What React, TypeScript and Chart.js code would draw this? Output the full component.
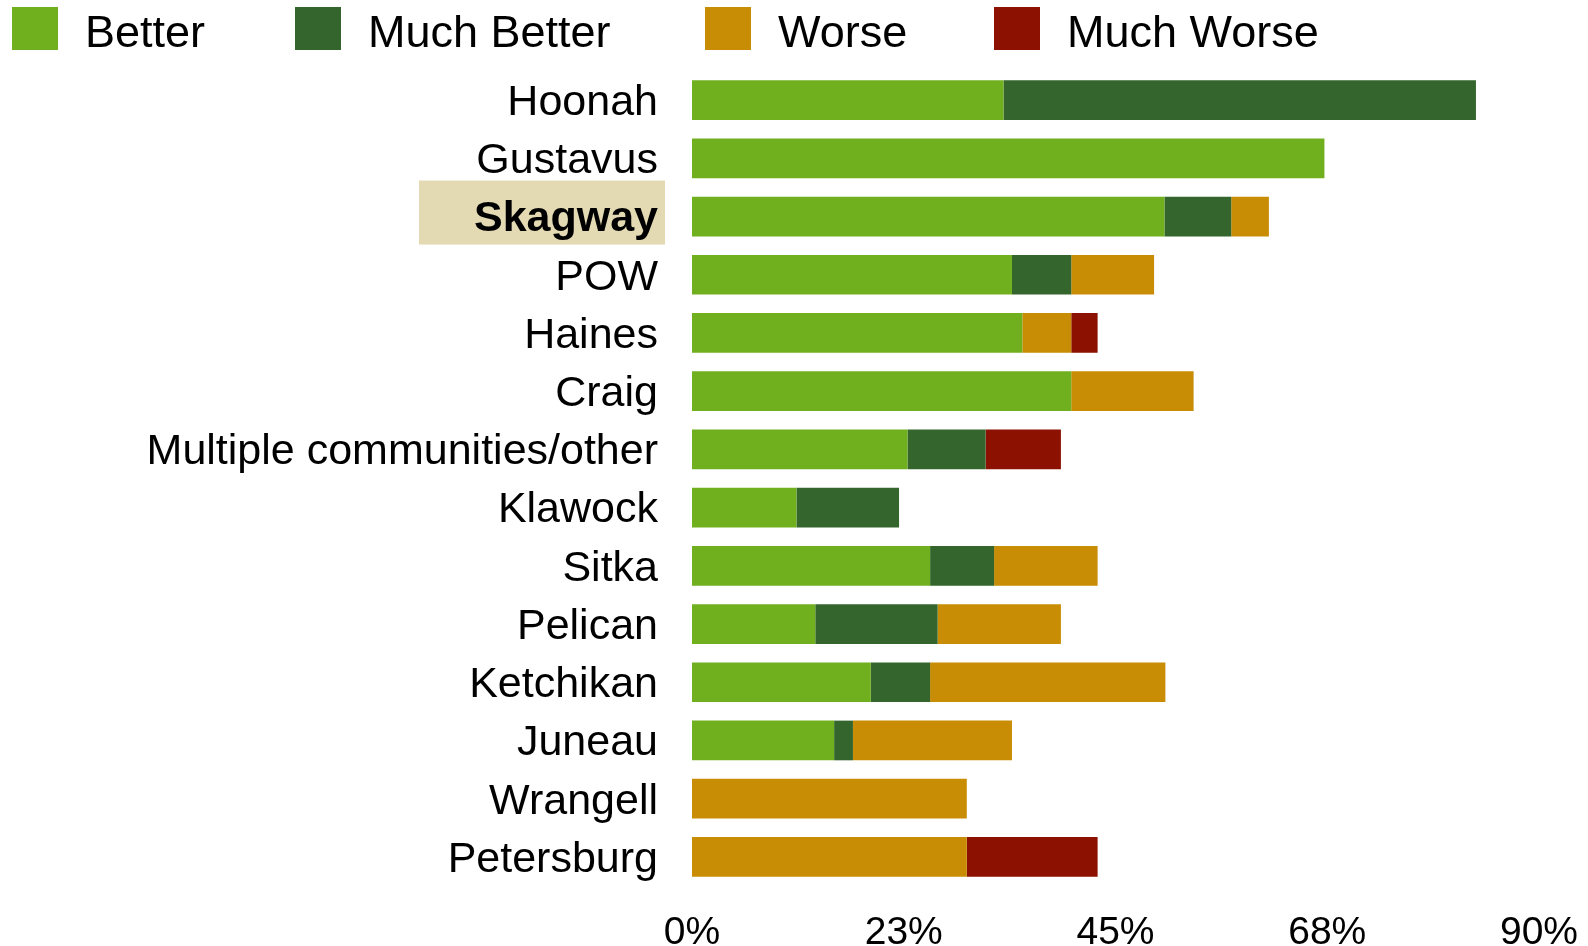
import React, { useEffect, useRef } from "react";
import { Chart, registerables } from "chart.js";

Chart.register(...registerables);

const categories = [
  "Hoonah",
  "Gustavus",
  "Skagway",
  "POW",
  "Haines",
  "Craig",
  "Multiple communities/other",
  "Klawock",
  "Sitka",
  "Pelican",
  "Ketchikan",
  "Juneau",
  "Wrangell",
  "Petersburg",
];

const better = [33.1, 67.2, 50.2, 34.0, 35.1, 40.3, 22.9, 11.1, 25.3, 13.1, 19.0, 15.1, 0, 0];
const muchBetter = [50.2, 0, 7.1, 6.3, 0, 0, 8.3, 10.9, 6.8, 13.0, 6.3, 2.0, 0, 0];
const worse = [0, 0, 4.0, 8.8, 5.2, 13.0, 0, 0, 11.0, 13.1, 25.0, 16.9, 29.2, 29.2];
const muchWorse = [0, 0, 0, 0, 2.8, 0, 8.0, 0, 0, 0, 0, 0, 0, 13.9];

const seriesNames = ["Better", "Much Better", "Worse", "Much Worse"];
const seriesColors = ["#70b01f", "#34652d", "#c98c05", "#8c1100"];

const xTickValues = [0, 22.5, 45, 67.5, 90];
const highlighted = "Skagway";

const FONT = '"Liberation Sans", Arial, Helvetica, sans-serif';

const highlightPlugin = {
  id: "highlightLabel",
  beforeDraw(chart: any) {
    const ctx = chart.ctx;
    const yScale = chart.scales.y;
    const idx = categories.indexOf(highlighted);
    if (idx < 0) return;
    const yc = yScale.getPixelForValue(idx);
    ctx.save();
    ctx.fillStyle = "#e3dab3";
    ctx.fillRect(419, yc - 36, 246, 64);
    ctx.restore();
  },
};

const legendPlugin = {
  id: "customLegend",
  afterDraw(chart: any) {
    const ctx = chart.ctx;
    const boxX = [12, 295, 705, 994];
    ctx.save();
    ctx.font = `45px ${FONT}`;
    ctx.textBaseline = "alphabetic";
    ctx.textAlign = "left";
    chart.data.datasets.forEach((ds: any, i: number) => {
      const x = boxX[i];
      ctx.fillStyle = ds.backgroundColor;
      ctx.fillRect(x, 7, 46, 43);
      ctx.fillStyle = "#000";
      ctx.fillText(ds.label, x + 73, 46.5);
    });
    ctx.restore();
  },
};

export default function App() {
  const canvasRef = useRef<HTMLCanvasElement | null>(null);

  useEffect(() => {
    const canvas = canvasRef.current;
    if (!canvas) return;
    const data = [better, muchBetter, worse, muchWorse];
    const chart = new Chart(canvas, {
      type: "bar",
      data: {
        labels: categories,
        datasets: seriesNames.map((name, i) => ({
          label: name,
          data: data[i],
          backgroundColor: seriesColors[i],
          borderWidth: 0,
          barPercentage: 0.682,
          categoryPercentage: 1,
        })),
      },
      options: {
        indexAxis: "y",
        responsive: false,
        animation: false,
        devicePixelRatio: 1,
        layout: { padding: { top: 71, right: 0, bottom: 0, left: 0 } },
        plugins: {
          legend: { display: false },
          tooltip: { enabled: false },
        },
        scales: {
          x: {
            stacked: true,
            min: 0,
            max: 90,
            grid: { display: false, drawTicks: false },
            border: { display: false },
            afterBuildTicks: (scale: any) => {
              scale.ticks = xTickValues.map((v) => ({ value: v }));
            },
            afterFit: (scale: any) => {
              scale.height = 60;
              scale.paddingRight = 49;
              scale.paddingLeft = 0;
            },
            ticks: {
              autoSkip: false,
              maxRotation: 0,
              color: "#000",
              padding: 24,
              font: { size: 39, family: FONT },
              callback: (v: any) => `${Math.round(Number(v))}%`,
            },
          },
          y: {
            stacked: true,
            grid: { display: false, drawTicks: false },
            border: { display: false },
            afterFit: (scale: any) => {
              scale.width = 692;
              scale.paddingTop = 0;
              scale.paddingBottom = 0;
            },
            ticks: {
              autoSkip: false,
              color: "#000",
              padding: 34,
              labelOffset: 3,
              font: (c: any) => ({
                size: 43,
                family: FONT,
                weight: c.tick && c.tick.label === highlighted ? "bold" : "normal",
              }),
            },
          },
        },
      },
      plugins: [highlightPlugin, legendPlugin],
    });
    return () => chart.destroy();
  }, []);

  return (
    <div style={{ position: "fixed", left: 0, top: 0, width: 1588, height: 946, background: "#fff" }}>
      <canvas ref={canvasRef} width={1588} height={946} style={{ width: 1588, height: 946 }} />
    </div>
  );
}
